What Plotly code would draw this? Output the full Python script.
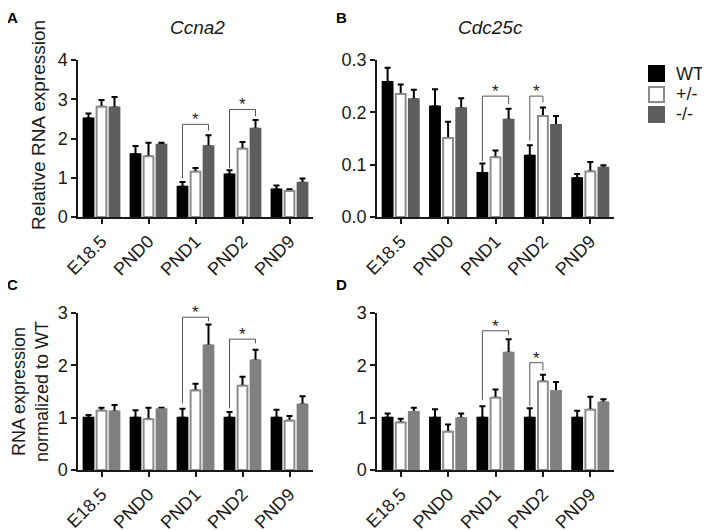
import plotly.graph_objects as go

# ---------------- data ----------------
categories = ["E18.5", "PND0", "PND1", "PND2", "PND9"]
genotypes = ["WT", "+/-", "-/-"]

# Panel A: Ccna2 relative expression
a_wt = [2.51, 1.60, 0.77, 1.08, 0.70]
a_wt_err = [0.13, 0.21, 0.12, 0.11, 0.10]
a_het = [2.81, 1.55, 1.15, 1.74, 0.66]
a_het_err = [0.17, 0.34, 0.10, 0.17, 0.05]
a_ko = [2.79, 1.84, 1.80, 2.25, 0.87]
a_ko_err = [0.27, 0.05, 0.28, 0.22, 0.11]

# Panel B: Cdc25c relative expression
b_wt = [0.258, 0.211, 0.084, 0.117, 0.074]
b_wt_err = [0.027, 0.033, 0.018, 0.020, 0.008]
b_het = [0.235, 0.151, 0.114, 0.193, 0.087]
b_het_err = [0.018, 0.031, 0.013, 0.016, 0.018]
b_ko = [0.225, 0.208, 0.186, 0.176, 0.094]
b_ko_err = [0.018, 0.019, 0.021, 0.017, 0.005]

# Panel C: Ccna2 normalized to WT
c_wt = [1.00, 1.00, 1.00, 1.00, 1.00]
c_wt_err = [0.05, 0.14, 0.17, 0.11, 0.15]
c_het = [1.13, 0.97, 1.52, 1.61, 0.94]
c_het_err = [0.06, 0.22, 0.13, 0.17, 0.09]
c_ko = [1.12, 1.16, 2.38, 2.09, 1.25]
c_ko_err = [0.12, 0.03, 0.40, 0.21, 0.16]

# Panel D: Cdc25c normalized to WT
d_wt = [1.00, 1.00, 1.00, 1.00, 1.00]
d_wt_err = [0.08, 0.16, 0.22, 0.18, 0.13]
d_het = [0.91, 0.73, 1.38, 1.69, 1.15]
d_het_err = [0.07, 0.14, 0.16, 0.13, 0.25]
d_ko = [1.11, 0.99, 2.24, 1.51, 1.29]
d_ko_err = [0.08, 0.09, 0.26, 0.17, 0.06]

# significance brackets: (category index, from bar, to bar, left leg bottom, right leg bottom, top)
a_brackets = [(2, 0, 2, 0.99, 2.20, 2.36), (3, 0, 2, 1.24, 2.57, 2.74)]
b_brackets = [(2, 0, 2, 0.107, 0.216, 0.231), (3, 0, 1, 0.146, 0.219, 0.231)]
c_brackets = [(2, 0, 2, 1.27, 2.84, 2.92), (3, 0, 2, 1.18, 2.42, 2.50)]
d_brackets = [(2, 0, 2, 1.34, 2.58, 2.66), (3, 0, 1, 1.22, 1.90, 2.05)]

# ---------------- style ----------------
FONT = "Arial, Liberation Sans, Helvetica, sans-serif"
PAGE_OFF = 8            # default body margin of the html page
W, H = 710 - PAGE_OFF, 531 - PAGE_OFF
GROUP_W = 0.83          # fraction of category occupied by a group
BAR_FRAC = 0.75         # fraction of a slot occupied by a bar
HET_LINE = "#8c8c8c"
KO_DARK = "#5e5e5e"
KO_LIGHT = "#808080"
TXT = "#1a1a1a"


def fx(px):
    return (px - PAGE_OFF) / W


def fy(py):
    return 1 - (py - PAGE_OFF) / H


panels = [
    dict(ax=1, wt=a_wt, wte=a_wt_err, het=a_het, hete=a_het_err, ko=a_ko, koe=a_ko_err,
         br=a_brackets, ko_color=KO_DARK, rng=[0, 4], tickvals=[0, 1, 2, 3, 4], fmt="d"),
    dict(ax=2, wt=b_wt, wte=b_wt_err, het=b_het, hete=b_het_err, ko=b_ko, koe=b_ko_err,
         br=b_brackets, ko_color=KO_DARK, rng=[0, 0.3], tickvals=[0, 0.1, 0.2, 0.3], fmt=".1f"),
    dict(ax=3, wt=c_wt, wte=c_wt_err, het=c_het, hete=c_het_err, ko=c_ko, koe=c_ko_err,
         br=c_brackets, ko_color=KO_LIGHT, rng=[0, 3], tickvals=[0, 1, 2, 3], fmt="d"),
    dict(ax=4, wt=d_wt, wte=d_wt_err, het=d_het, hete=d_het_err, ko=d_ko, koe=d_ko_err,
         br=d_brackets, ko_color=KO_LIGHT, rng=[0, 3], tickvals=[0, 1, 2, 3], fmt="d"),
]

x_domains = {1: [fx(78), fx(313)], 2: [fx(377), fx(614)], 3: [fx(78), fx(313)], 4: [fx(377), fx(614)]}
y_domains = {1: [fy(217), fy(60)], 2: [fy(217), fy(60)], 3: [fy(470), fy(313)], 4: [fy(470), fy(313)]}

xpos = list(range(len(categories)))
slot = GROUP_W / 3
bar_w = slot * BAR_FRAC


def center_offset(j):
    return -GROUP_W / 2 + slot * (j + 0.5)


fig = go.Figure()
annotations = []
shapes = []

for p in panels:
    k = p["ax"]
    xa = "x" if k == 1 else f"x{k}"
    ya = "y" if k == 1 else f"y{k}"
    series = [
        (genotypes[0], p["wt"], p["wte"], "#000000", "#000000"),
        (genotypes[1], p["het"], p["hete"], "#ffffff", HET_LINE),
        (genotypes[2], p["ko"], p["koe"], p["ko_color"], p["ko_color"]),
    ]
    # error bars first (carried by transparent bars), so the real bars sit on top
    for j, (name, vals, errs, fill, line) in enumerate(series):
        fig.add_trace(go.Bar(
            x=xpos, y=vals, name=name, showlegend=False, hoverinfo="skip",
            width=bar_w, offset=center_offset(j) - bar_w / 2,
            marker=dict(color="rgba(0,0,0,0)", line=dict(width=0)),
            error_y=dict(type="data", array=errs, arrayminus=[0] * len(errs), symmetric=False,
                         color="#000000", thickness=2, width=3),
            xaxis=xa, yaxis=ya,
        ))
    for j, (name, vals, errs, fill, line) in enumerate(series):
        fig.add_trace(go.Bar(
            x=xpos, y=vals, name=name, showlegend=False,
            width=bar_w, offset=center_offset(j) - bar_w / 2,
            marker=dict(color=fill, line=dict(color=line, width=2)),
            xaxis=xa, yaxis=ya,
        ))
    for (ci, j1, j2, yl, yr, yt) in p["br"]:
        x1 = ci + center_offset(j1)
        x2 = ci + center_offset(j2)
        fig.add_trace(go.Scatter(
            x=[x1, x1, x2, x2], y=[yl, yt, yt, yr], mode="lines",
            line=dict(color="#555555", width=1), showlegend=False, hoverinfo="skip",
            cliponaxis=False, xaxis=xa, yaxis=ya,
        ))
        annotations.append(dict(
            x=(x1 + x2) / 2, y=yt, xref=xa, yref=ya, text="*", showarrow=False,
            xanchor="center", yanchor="bottom", yshift=-7,
            font=dict(family=FONT, size=17, color="#222222"),
        ))

    axis_common = dict(showline=True, linecolor=TXT, linewidth=1.5, ticks="outside",
                       ticklen=5, tickwidth=1.5, tickcolor=TXT, showgrid=False, zeroline=False,
                       automargin=False, tickfont=dict(family=FONT, size=18, color=TXT))
    xkey = "xaxis" if k == 1 else f"xaxis{k}"
    ykey = "yaxis" if k == 1 else f"yaxis{k}"
    fig.update_layout(**{
        xkey: dict(domain=x_domains[k], anchor=ya, range=[-0.5, len(categories) - 0.5],
                   tickvals=xpos, ticktext=categories, tickangle=-45, **axis_common),
        ykey: dict(domain=y_domains[k], anchor=xa, range=p["rng"], tickvals=p["tickvals"],
                   tickformat=p["fmt"], **axis_common),
    })

# legend (swatches + labels)
legend_styles = [("#000000", "#000000"), ("#ffffff", HET_LINE), (KO_DARK, KO_DARK)]
legend_rows = [73.5, 94.5, 114.5]
for name, (fill, line), cy in zip(genotypes, legend_styles, legend_rows):
    shapes.append(dict(type="rect", xref="paper", yref="paper",
                       x0=fx(649), x1=fx(664), y0=fy(cy + 7.5), y1=fy(cy - 7.5),
                       fillcolor=fill, line=dict(color=line, width=2)))
    annotations.append(dict(x=fx(674), y=fy(cy), xref="paper", yref="paper", text=name,
                            showarrow=False, xanchor="left", yanchor="middle",
                            font=dict(family=FONT, size=18, color=TXT)))

# panel letters, titles, y-axis titles
for letter, px, py in [("A", 12, 8), ("B", 341, 8), ("C", 12, 275), ("D", 341, 275)]:
    annotations.append(dict(x=fx(px), y=fy(py), xref="paper", yref="paper", text=f"<b>{letter}</b>",
                            showarrow=False, xanchor="center", yanchor="top", borderpad=0,
                            font=dict(family=FONT, size=15, color="#000000")))
for title, px in [("Ccna2", 197), ("Cdc25c", 490)]:
    annotations.append(dict(x=fx(px), y=fy(27), xref="paper", yref="paper", text=f"<i>{title}</i>",
                            showarrow=False, xanchor="center", yanchor="middle",
                            font=dict(family=FONT, size=19, color=TXT)))
annotations.append(dict(x=fx(38), y=fy(125), xref="paper", yref="paper", text="Relative RNA expression",
                        textangle=-90, showarrow=False, xanchor="center", yanchor="middle",
                        font=dict(family=FONT, size=19, color=TXT)))
annotations.append(dict(x=fx(30), y=fy(392), xref="paper", yref="paper",
                        text="RNA expression<br>normalized to WT",
                        textangle=-90, showarrow=False, xanchor="center", yanchor="middle",
                        font=dict(family=FONT, size=18, color=TXT)))

fig.update_layout(
    width=W, height=H, margin=dict(l=0, r=0, t=0, b=0),
    paper_bgcolor="white", plot_bgcolor="white",
    barmode="overlay", showlegend=False,
    annotations=annotations, shapes=shapes,
    font=dict(family=FONT),
)

fig.write_html("out.html")
